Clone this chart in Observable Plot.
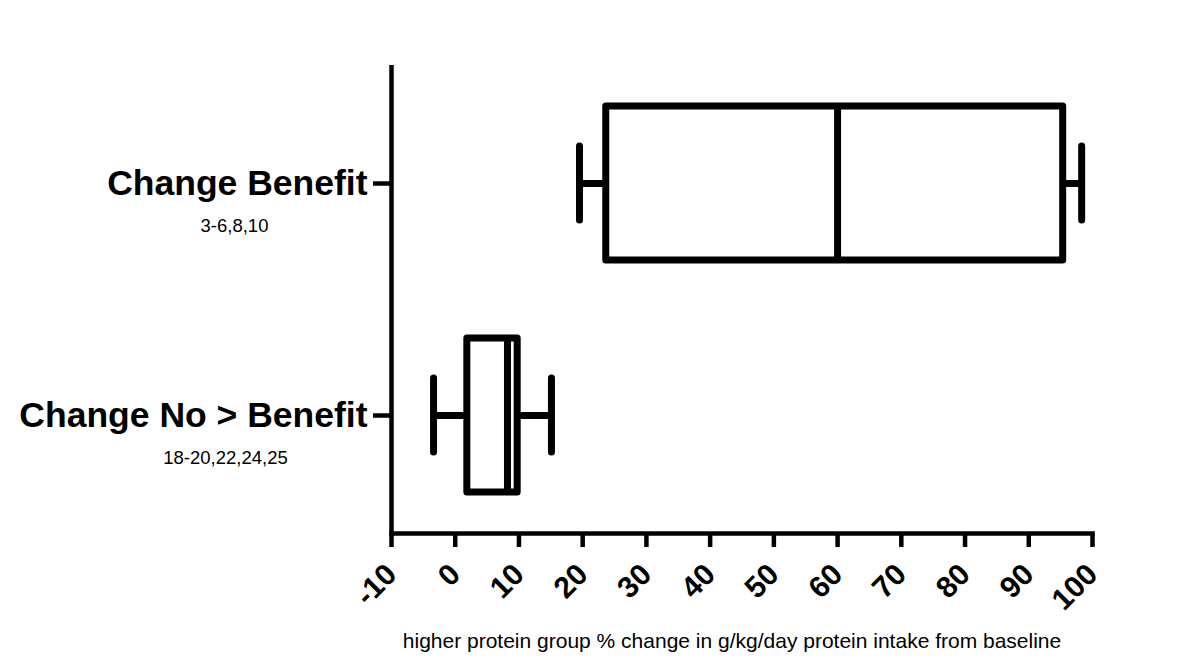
<!DOCTYPE html>
<html>
<head>
<meta charset="utf-8">
<script src="https://cdn.jsdelivr.net/npm/d3@7"></script>
<script src="https://cdn.jsdelivr.net/npm/@observablehq/plot@0.6"></script>
<style>
  html, body { margin: 0; padding: 0; background: #fff; }
  #chart svg { display: block; }
</style>
</head>
<body>
<div id="chart"></div>
<script>
// ---- data ----
const categories = ["Change Benefit", "Change No > Benefit"];
const subLabels = ["3-6,8,10", "18-20,22,24,25"];
const whiskerLow = [19.5, -3.4];
const q1 = [23.7, 1.9];
const median = [60.0, 8.2];
const q3 = [95.4, 9.8];
const whiskerHigh = [98.3, 15.1];
const xTicks = [-10, 0, 10, 20, 30, 40, 50, 60, 70, 80, 90, 100];
const xLabel = "higher protein group % change in g/kg/day protein intake from baseline";

const rows = categories.map((c, i) => ({
  cat: c, sub: subLabels[i], lo: whiskerLow[i], q1: q1[i], med: median[i], q3: q3[i], hi: whiskerHigh[i]
}));

const font = "'Liberation Sans', Arial, sans-serif";
const sw = 7;

const chart = Plot.plot({
  width: 1200,
  height: 668,
  marginLeft: 391,
  marginRight: 108,
  marginTop: 65,
  marginBottom: 135,
  style: { fontFamily: font, background: "#fff", color: "#000", overflow: "visible" },
  x: { domain: [-10, 100] },
  y: { domain: categories, paddingInner: 0.335, paddingOuter: 0.172 },
  marks: [
    // whisker stems
    Plot.ruleY(rows, { y: "cat", x1: "lo", x2: "q1", stroke: "#000", strokeWidth: sw }),
    Plot.ruleY(rows, { y: "cat", x1: "q3", x2: "hi", stroke: "#000", strokeWidth: sw }),
    // whisker caps
    Plot.tickX(rows, { x: "lo", y: "cat", stroke: "#000", strokeWidth: sw, strokeLinecap: "round", insetTop: 40, insetBottom: 40 }),
    Plot.tickX(rows, { x: "hi", y: "cat", stroke: "#000", strokeWidth: sw, strokeLinecap: "round", insetTop: 40, insetBottom: 40 }),
    // boxes
    Plot.barX(rows, { y: "cat", x1: "q1", x2: "q3", fill: "#fff", stroke: "#000", strokeWidth: sw, strokeLinejoin: "round" }),
    // medians
    Plot.tickX(rows, { x: "med", y: "cat", stroke: "#000", strokeWidth: sw }),
    // axes
    Plot.ruleX([-10], { stroke: "#000", strokeWidth: 4.5 }),
    Plot.frame({ anchor: "bottom", stroke: "#000", strokeWidth: 4.5 }),
    Plot.axisX({
      ticks: xTicks, tickSize: 14, tickPadding: 22, tickRotate: -45,
      tickFormat: d => String(d),
      fontSize: 30, fontWeight: "bold", stroke: "#000", strokeWidth: 4.5, label: null
    }),
    Plot.axisY({
      tickSize: 18, tickPadding: 6, fontSize: 35.5, fontWeight: "bold",
      stroke: "#000", strokeWidth: 4.5, label: null
    }),
    // sub labels under category names
    Plot.text([rows[0]], { x: () => -10, y: "cat", text: "sub", dx: -157, dy: 43, fontSize: 18.5, textAnchor: "middle", fill: "#000" }),
    Plot.text([rows[1]], { x: () => -10, y: "cat", text: "sub", dx: -166, dy: 43, fontSize: 18.5, textAnchor: "middle", fill: "#000" }),
    // x axis title
    Plot.text([xLabel], { frameAnchor: "bottom", dx: -10, dy: 114, fontSize: 21, fill: "#000" })
  ]
});

document.getElementById("chart").append(chart);
</script>
</body>
</html>
